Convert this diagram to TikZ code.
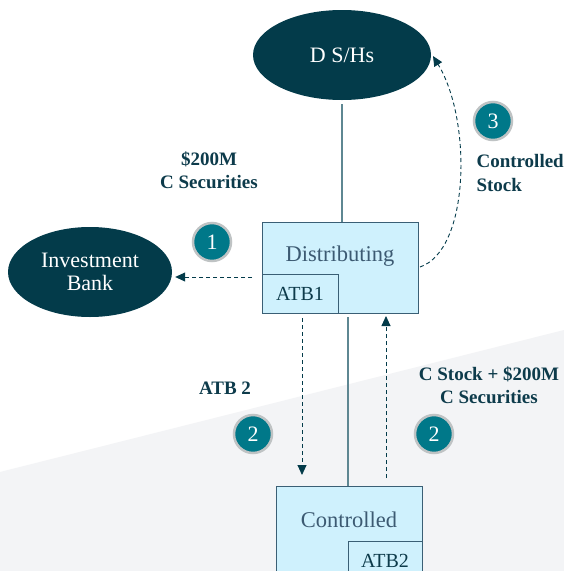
\documentclass[tikz,border=0pt]{standalone}
\usepackage{fontspec}
\setmainfont{Liberation Serif}
\usetikzlibrary{arrows.meta,shapes.geometric,calc}
\definecolor{darkteal}{HTML}{033B4A}
\definecolor{badgefill}{HTML}{007889}
\definecolor{badgering}{HTML}{BFC3C4}
\definecolor{boxfill}{HTML}{CFF1FD}
\definecolor{boxline}{HTML}{3A5F75}
\definecolor{boxtxt}{HTML}{3C5A72}
\definecolor{labeltxt}{HTML}{0D3B4B}
\definecolor{solidline}{HTML}{5E8792}
\definecolor{bggrey}{HTML}{F3F4F6}
\begin{document}
\begin{tikzpicture}[x=1pt,y=-1pt,
  oval/.style={ellipse, fill=darkteal, text=white, inner sep=0pt, font=\fontsize{22}{23}\selectfont, align=center},
  badge/.style={circle, fill=badgefill, draw=badgering, line width=2.5pt, minimum size=38pt, inner sep=0pt, text=white, font=\fontsize{22}{22}\selectfont},
  entbox/.style={rectangle, fill=boxfill, draw=boxline, line width=1pt, inner sep=0pt, anchor=north west},
  boxtext/.style={text=boxtxt, font=\fontsize{22.5}{24}\selectfont},
  subtext/.style={text=labeltxt, font=\fontsize{20}{22}\selectfont},
  lbl/.style={text=labeltxt, font=\fontsize{19}{23.5}\selectfont\bfseries, align=center},
  flow/.style={dashed, dash pattern=on 4pt off 3pt, draw=darkteal, line width=0.9pt, -{Triangle[length=10pt,width=9pt]}},
  own/.style={draw=solidline, line width=1.2pt}
]
\clip (0,0) rectangle (564,571);
\fill[white] (0,0) rectangle (564,571);
\fill[bggrey] (0,472) -- (564,330) -- (564,571) -- (0,571) -- cycle;

% top shareholders
\node[oval, minimum width=178pt, minimum height=90pt] (dsh) at (342,55) {D S/Hs};
% investment bank
\node[oval, minimum width=164pt, minimum height=90pt] (ib) at (90,272) {Investment\\Bank};

% Distributing
\node[entbox, minimum width=156pt, minimum height=91pt] (dist) at (262,222) {};
\node[boxtext] (disttext) at (340,256) {Distributing};
\node[entbox, minimum width=76pt, minimum height=39pt] (atb1) at (262,274) {};
\node[subtext] (atb1text) at (300,294) {ATB1};

% Controlled
\node[entbox, minimum width=146pt, minimum height=120pt] (ctrl) at (276,486) {};
\node[boxtext] (ctrltext) at (349,520) {Controlled};
\node[entbox, minimum width=74pt, minimum height=60pt] (atb2) at (348,541) {};
\node[subtext] (atb2text) at (385,561) {ATB2};

% ownership lines
\draw[own] ($(dsh.south)+(0,4)$) -- (dist.north -| dsh.south);
\coordinate (dbot) at (348,313);
\draw[own] ($(dbot)+(0,4)$) -- (ctrl.north -| dbot);

% flows
\draw[flow] ($(dist.west)+(-10,9)$) -- ($(ib.east)+(3,5)$);
\coordinate (downtop) at (302,318);
\coordinate (downbot) at (302,475);
\draw[flow] (downtop) -- (downbot);
\coordinate (uptop) at (386,316);
\coordinate (upbot) at (386,478);
\draw[flow] (upbot) -- (uptop);
\coordinate (cstart) at (420,267);
\coordinate (cend) at (433,56);
\draw[flow] (cstart) .. controls (470,250) and (472,120) .. (cend);

% badges
\node[badge] (b1) at (212,242) {1};
\node[badge] (b3) at (493,121) {3};
\node[badge] (b2a) at (253,434) {2};
\node[badge] (b2b) at (434,434) {2};

% labels
\node[lbl] (l1) at (209,170) {\$200M\\C Securities};
\node[lbl, align=left, anchor=west] (l3) at (473,173) {Controlled\\Stock};
\node[lbl] (l2a) at (225,388) {ATB 2};
\node[lbl] (l2b) at (489,385) {C Stock + \$200M\\C Securities};
\end{tikzpicture}
\end{document}
